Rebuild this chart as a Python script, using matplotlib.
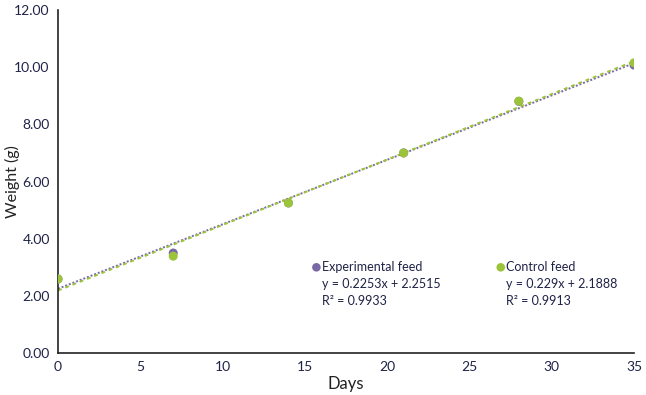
# weight gain of fish, experimental vs control feed
import numpy as np
import matplotlib.pyplot as plt

plt.rcParams['font.family'] = ['Lato', 'DejaVu Sans']

days = [0, 7, 14, 21, 28, 35]
exp_weight = [2.59, 3.50, 5.25, 7.00, 8.80, 10.07]
ctl_weight = [2.59, 3.39, 5.25, 7.00, 8.81, 10.15]

# trendline coefficients as printed on the chart
exp_fit = [0.2253, 2.2515, 0.9933]
ctl_fit = [0.229, 2.1888, 0.9913]

purple = '#7a68a6'
green = '#9cc43a'
txt = '#1f2347'

fig = plt.figure(figsize=(6.46, 3.95), dpi=100)
ax = fig.add_axes([0.0898, 0.106, 0.8917, 0.869])

x = np.array([0, 35])
ax.plot(x, exp_fit[0] * x + exp_fit[1], color=purple, ls=(0, (1, 1)), lw=1.4, zorder=2)
ax.plot(x, ctl_fit[0] * x + ctl_fit[1], color=green, ls=(0, (2, 2)), lw=1.4, zorder=2)

ax.scatter(days, exp_weight, s=42, color=purple, zorder=3, edgecolors='none')
ax.scatter(days, ctl_weight, s=42, color=green, zorder=4, edgecolors='none')

ax.set_xlim(0, 35)
ax.set_ylim(0, 12)
ax.set_xticks(range(0, 36, 5))
ax.set_yticks(np.arange(0, 12.1, 2))
ax.set_yticklabels(['%.2f' % v for v in np.arange(0, 12.1, 2)])
ax.tick_params(length=0, labelsize=10, colors=txt, pad=6)
for s in ['top', 'right']:
    ax.spines[s].set_visible(False)
for s in ['left', 'bottom']:
    ax.spines[s].set_color('#222222')
    ax.spines[s].set_linewidth(1.2)

ax.set_xlabel('Days', fontsize=12, color='#222222', labelpad=2)
ax.set_ylabel('Weight (g)', fontsize=11.5, color='#222222')
ax.yaxis.set_label_coords(-0.066, 0.5)

# annotation blocks
for xm, col, name, fit in [(15.7, purple, 'Experimental feed', exp_fit),
                           (26.9, green, 'Control feed', ctl_fit)]:
    ax.scatter([xm], [3.0], s=38, color=col, edgecolors='none', clip_on=False)
    ax.text(xm + 0.35, 3.0, name, fontsize=9, color=txt, va='center')
    ax.text(xm + 0.35, 2.42, 'y = %sx + %s' % (fit[0], fit[1]), fontsize=9, color=txt, va='center')
    ax.text(xm + 0.35, 1.83, 'R² = %s' % fit[2], fontsize=9, color=txt, va='center')

fig.savefig('out.png', dpi=100)
